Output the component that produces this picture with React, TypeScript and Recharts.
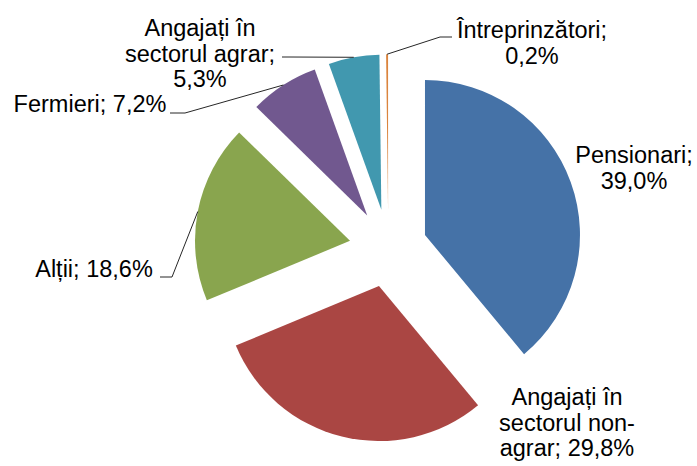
import { PieChart, Pie, Cell } from "recharts";

const categories = [
  "Pensionari",
  "Angajați în sectorul non-agrar",
  "Alții",
  "Fermieri",
  "Angajați în sectorul agrar",
  "Întreprinzători",
];
const shares = [39.0, 29.8, 18.6, 7.2, 5.3, 0.2];
const colors = ["#4572A7", "#AA4643", "#89A54E", "#71588F", "#4198AF", "#DB843D"];

// label text as wrapped in the original
const labelText = [
  ["Pensionari;", "39,0%"],
  ["Angajați în", "sectorul non-", "agrar; 29,8%"],
  ["Alții; 18,6%"],
  ["Fermieri; 7,2%"],
  ["Angajați în", "sectorul agrar;", "5,3%"],
  ["Întreprinzători;", "0,2%"],
];

// layout: label centre x, first baseline y, leader elbow + end (null = no leader)
const labelPos: { x: number; y: number; leader: number[][] | null }[] = [
  { x: 634, y: 163, leader: null },
  { x: 567, y: 405, leader: null },
  { x: 94, y: 277, leader: [[172, 277], [160, 277]] },
  { x: 90, y: 112, leader: [[185, 113], [170, 113]] },
  { x: 200, y: 36, leader: [[290, 57], [282, 57]] },
  { x: 532, y: 38, leader: [[440, 37], [452, 37]] },
];

const data = categories.map((name, i) => ({ name, value: shares[i] }));

const W = 697;
const H = 466;
const CX = 388.3;
const CY = 248.2;
const R = 155;
const EXPLODE = 39;
const FONT = "'Liberation Sans', Arial, sans-serif";
const RAD = Math.PI / 180;

const total = shares.reduce((a, b) => a + b, 0);
const offsets = shares.map((v, i) => {
  const before = shares.slice(0, i).reduce((a, b) => a + b, 0);
  const t = ((before + v / 2) / total) * 2 * Math.PI;
  return { dx: EXPLODE * Math.sin(t), dy: -EXPLODE * Math.cos(t) };
});

function makeLabel(target: number) {
  return (p: any) => {
    if (p.index !== target) return null;
    const pos = labelPos[target];
    const lines = labelText[target];
    const ax = p.cx + p.outerRadius * Math.cos(-p.midAngle * RAD);
    const ay = p.cy + p.outerRadius * Math.sin(-p.midAngle * RAD);
    return (
      <g>
        {pos.leader && (
          <polyline
            points={[[ax, ay], ...pos.leader].map((q) => q.join(",")).join(" ")}
            fill="none"
            stroke="#262626"
            strokeWidth={1}
          />
        )}
        <text textAnchor="middle" fontFamily={FONT} fontSize={23.5} fill="#000">
          {lines.map((l, k) => (
            <tspan key={k} x={pos.x} y={pos.y + k * 25.5}>
              {l}
            </tspan>
          ))}
        </text>
      </g>
    );
  };
}

export default function App() {
  return (
    <div style={{ position: "fixed", left: 0, top: 0, width: W, height: H, background: "#fff" }}>
      <PieChart width={W} height={H} margin={{ top: 0, right: 0, bottom: 0, left: 0 }}>
        {shares.map((_, i) => (
          <Pie
            key={i}
            data={data}
            dataKey="value"
            nameKey="name"
            cx={CX + offsets[i].dx}
            cy={CY + offsets[i].dy}
            outerRadius={R}
            startAngle={90}
            endAngle={-270}
            stroke="none"
            isAnimationActive={false}
            label={makeLabel(i)}
            labelLine={false}
          >
            {data.map((d, j) => (
              <Cell key={d.name} fill={j === i ? colors[j] : "transparent"} />
            ))}
          </Pie>
        ))}
      </PieChart>
    </div>
  );
}
